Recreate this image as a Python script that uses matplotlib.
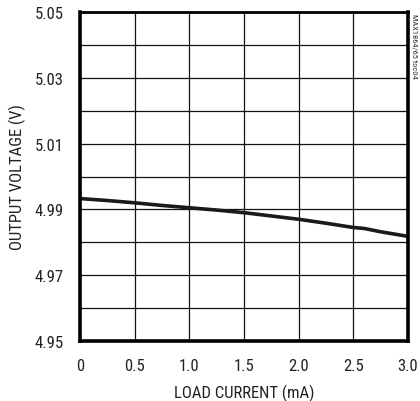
import matplotlib
matplotlib.use("Agg")
import matplotlib.pyplot as plt

plt.rcParams['font.family'] = ['Nimbus Sans Narrow', 'Roboto Condensed', 'DejaVu Sans']

# load current (mA) vs output voltage (V)
load_current = [0.0, 0.25, 0.5, 0.75, 1.0, 1.25, 1.5, 1.75, 2.0, 2.25, 2.5, 2.6, 2.75, 3.0]
output_voltage = [4.9933, 4.9927, 4.9920, 4.9912, 4.9905, 4.9898, 4.9890, 4.9880,
                  4.9870, 4.9858, 4.9845, 4.9842, 4.9832, 4.9818]

x_ticks = [0, 0.5, 1.0, 1.5, 2.0, 2.5, 3.0]
x_labels = ['0', '0.5', '1.0', '1.5', '2.0', '2.5', '3.0']
y_grid = [4.95, 4.96, 4.97, 4.98, 4.99, 5.00, 5.01, 5.02, 5.03, 5.04, 5.05]
y_labels = ['4.95', '', '4.97', '', '4.99', '', '5.01', '', '5.03', '', '5.05']

fig = plt.figure(figsize=(4.2, 4.02), dpi=100)
ax = fig.add_axes([80/420, 60/402, 328/420, 329/402])

ax.plot(load_current, output_voltage, color='#1a1a1a', lw=2.6, solid_capstyle='butt')

ax.set_xlim(0, 3.0)
ax.set_ylim(4.95, 5.05)
ax.set_xticks(x_ticks)
ax.set_xticklabels(x_labels)
ax.set_yticks(y_grid)
ax.set_yticklabels(y_labels)
ax.tick_params(length=0, labelsize=12, colors='#222222')
ax.tick_params(axis='x', pad=12)
ax.tick_params(axis='y', pad=12)
ax.grid(True, color='#111111', lw=0.9)

for side in ['left', 'bottom', 'right']:
    ax.spines[side].set_linewidth(2.6)
ax.spines['top'].set_linewidth(2.0)

ax.set_xlabel('LOAD CURRENT (mA)', fontsize=12, color='#222222', labelpad=8)
ax.set_ylabel('OUTPUT VOLTAGE (V)', fontsize=12, color='#222222', labelpad=6)

fig.text(412/420, 1 - 14/402, 'MAX1864/65 toc04', rotation=270, fontsize=6,
         color='#333333', ha='left', va='top')

fig.savefig('out.png', dpi=100)
